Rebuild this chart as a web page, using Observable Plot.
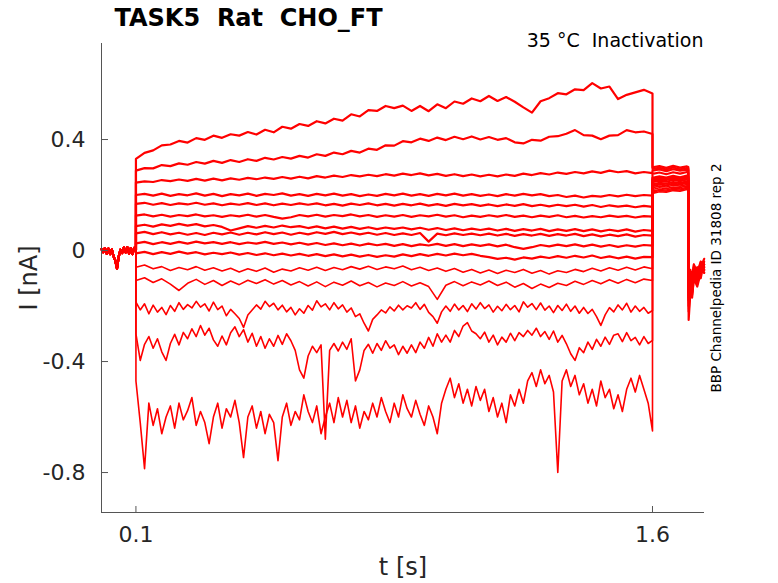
<!DOCTYPE html>
<html><head><meta charset="utf-8">
<script src="https://cdn.jsdelivr.net/npm/d3@7"></script>
<script src="https://cdn.jsdelivr.net/npm/@observablehq/plot@0.6"></script>
<style>
html,body{margin:0;padding:0;background:#fff;}
svg text{white-space:pre;}
</style></head><body><div id="chart"></div>
<script>
// ---- text ----
const titleText = "TASK5  Rat  CHO_FT";
const subtitleText = "35 °C  Inactivation";
const sideText = "BBP Channelpedia ID 31808 rep 2";
const xLabel = "t [s]";
const yLabel = "I [nA]";

// ---- axes ----
const xDomain = [0, 1.751];
const yDomain = [-0.944, 0.746];
const xTicks = [0.1, 1.6];
const xTickLabels = ["0.1", "1.6"];
const yTicks = [-0.8, -0.4, 0, 0.4];
const yTickLabels = ["-0.8", "-0.4", "0", "0.4"];

// ---- sample times (s) ----
const preT = [0,0.005,0.01,0.015,0.02,0.025,0.03,0.035,0.04,0.045,0.05,0.055,0.06,0.065,0.07,0.075,0.08,0.085,0.09,0.095,0.1];
const mainT = [0.1,0.125,0.15,0.175,0.2,0.225,0.25,0.275,0.3,0.325,
  0.35,0.375,0.4,0.425,0.45,0.475,0.5,0.525,0.55,0.575,
  0.6,0.625,0.65,0.675,0.7,0.725,0.75,0.775,0.8,0.825,
  0.85,0.875,0.9,0.925,0.95,0.975,1.0,1.025,1.05,1.075,
  1.1,1.125,1.15,1.175,1.2,1.225,1.25,1.275,1.3,1.325,
  1.35,1.375,1.4,1.425,1.45,1.475,1.5,1.525,1.55,1.575,
  1.6];
const fineT = [0.1,0.1125,0.125,0.1375,0.15,0.1625,0.175,0.1875,
  0.2,0.2125,0.225,0.2375,0.25,0.2625,0.275,0.2875,
  0.3,0.3125,0.325,0.3375,0.35,0.3625,0.375,0.3875,
  0.4,0.4125,0.425,0.4375,0.45,0.4625,0.475,0.4875,
  0.5,0.5125,0.525,0.5375,0.55,0.5625,0.575,0.5875,
  0.6,0.6125,0.625,0.6375,0.65,0.6625,0.675,0.6875,
  0.7,0.7125,0.725,0.7375,0.75,0.7625,0.775,0.7875,
  0.8,0.8125,0.825,0.8375,0.85,0.8625,0.875,0.8875,
  0.9,0.9125,0.925,0.9375,0.95,0.9625,0.975,0.9875,
  1.0,1.0125,1.025,1.0375,1.05,1.0625,1.075,1.0875,
  1.1,1.1125,1.125,1.1375,1.15,1.1625,1.175,1.1875,
  1.2,1.2125,1.225,1.2375,1.25,1.2625,1.275,1.2875,
  1.3,1.3125,1.325,1.3375,1.35,1.3625,1.375,1.3875,
  1.4,1.4125,1.425,1.4375,1.45,1.4625,1.475,1.4875,
  1.5,1.5125,1.525,1.5375,1.55,1.5625,1.575,1.5875,
  1.6];
const tailT = [1.6,1.62,1.64,1.66,1.68,1.7,1.704,1.705,1.71,1.715,1.72,1.73,1.74,1.75];

// ---- holding baseline (nA) ----
const preV = [0.005,-0.006,0.009,-0.011,0.007,-0.013,0.004,-0.021,-0.036,-0.065,-0.022,0.003,-0.009,0.011,-0.007,0.012,-0.011,0.009,-0.013,0.01,0];

// ---- test-pulse currents (nA), sampled on mainT ----
const i01 = [0.330,0.352,0.361,0.379,0.382,0.395,0.389,0.405,0.399,0.414,
  0.406,0.419,0.414,0.427,0.418,0.435,0.426,0.446,0.439,0.456,
  0.449,0.466,0.458,0.475,0.468,0.491,0.483,0.506,0.503,0.521,
  0.513,0.522,0.503,0.521,0.502,0.527,0.513,0.537,0.529,0.548,
  0.538,0.557,0.539,0.553,0.536,0.516,0.497,0.538,0.549,0.567,
  0.563,0.581,0.578,0.603,0.584,0.591,0.546,0.561,0.570,0.579,
  0.566];
const i02 = [0.288,0.297,0.296,0.308,0.304,0.314,0.309,0.319,0.313,0.323,
  0.316,0.326,0.319,0.329,0.323,0.334,0.328,0.337,0.331,0.341,
  0.335,0.347,0.341,0.353,0.347,0.359,0.353,0.367,0.363,0.379,
  0.378,0.394,0.390,0.403,0.395,0.407,0.398,0.410,0.401,0.411,
  0.400,0.409,0.399,0.405,0.390,0.386,0.399,0.396,0.410,0.412,
  0.421,0.434,0.416,0.414,0.401,0.414,0.416,0.434,0.426,0.429,
  0.420];
const i03 = [0.245,0.249,0.247,0.254,0.250,0.256,0.251,0.258,0.252,0.259,
  0.253,0.260,0.255,0.262,0.257,0.263,0.258,0.265,0.259,0.266,
  0.260,0.268,0.263,0.270,0.265,0.272,0.267,0.273,0.268,0.275,
  0.270,0.277,0.272,0.278,0.271,0.276,0.269,0.275,0.268,0.274,
  0.267,0.273,0.267,0.274,0.269,0.277,0.272,0.279,0.274,0.281,
  0.276,0.283,0.278,0.285,0.280,0.288,0.282,0.286,0.278,0.283,
  0.279];
const i04 = [0.200,0.204,0.198,0.205,0.197,0.203,0.199,0.206,0.198,0.204,
  0.196,0.203,0.199,0.205,0.197,0.204,0.200,0.206,0.198,0.203,
  0.197,0.204,0.199,0.205,0.198,0.203,0.196,0.202,0.197,0.204,
  0.199,0.205,0.198,0.203,0.197,0.204,0.199,0.205,0.198,0.203,
  0.197,0.202,0.196,0.203,0.198,0.204,0.199,0.203,0.196,0.200,
  0.193,0.198,0.191,0.197,0.194,0.200,0.195,0.201,0.196,0.200,
  0.198];
const i05 = [0.168,0.172,0.165,0.171,0.164,0.170,0.166,0.172,0.165,0.170,
  0.163,0.169,0.165,0.171,0.164,0.170,0.163,0.169,0.164,0.170,
  0.165,0.170,0.163,0.168,0.162,0.169,0.164,0.170,0.163,0.168,
  0.162,0.168,0.163,0.169,0.162,0.167,0.161,0.168,0.163,0.167,
  0.161,0.166,0.160,0.166,0.161,0.167,0.160,0.165,0.159,0.165,
  0.160,0.165,0.158,0.164,0.157,0.163,0.158,0.162,0.156,0.161,
  0.157];
const i06 = [0.126,0.130,0.123,0.129,0.122,0.128,0.124,0.130,0.123,0.127,
  0.121,0.127,0.123,0.129,0.122,0.128,0.121,0.115,0.120,0.128,
  0.123,0.129,0.122,0.128,0.124,0.130,0.123,0.128,0.121,0.127,
  0.122,0.128,0.121,0.127,0.123,0.129,0.122,0.127,0.120,0.126,
  0.121,0.127,0.122,0.128,0.121,0.126,0.120,0.126,0.121,0.127,
  0.120,0.125,0.119,0.124,0.120,0.126,0.121,0.125,0.119,0.124,
  0.122];
const i07 = [0.088,0.093,0.086,0.094,0.089,0.096,0.090,0.095,0.087,0.092,
  0.085,0.072,0.080,0.088,0.082,0.089,0.083,0.090,0.084,0.088,
  0.081,0.087,0.080,0.086,0.079,0.085,0.078,0.084,0.077,0.083,
  0.078,0.083,0.076,0.082,0.075,0.081,0.074,0.080,0.073,0.079,
  0.074,0.079,0.072,0.078,0.071,0.077,0.072,0.078,0.070,0.076,
  0.071,0.077,0.070,0.076,0.069,0.075,0.070,0.076,0.068,0.074,
  0.071];
const i08 = [0.062,0.067,0.059,0.066,0.058,0.064,0.057,0.063,0.056,0.064,
  0.058,0.065,0.057,0.064,0.058,0.066,0.059,0.065,0.057,0.064,
  0.058,0.066,0.060,0.067,0.059,0.065,0.058,0.064,0.057,0.063,
  0.056,0.062,0.056,0.063,0.032,0.061,0.055,0.062,0.056,0.061,
  0.055,0.061,0.054,0.060,0.053,0.059,0.054,0.060,0.053,0.059,
  0.054,0.060,0.052,0.058,0.051,0.057,0.052,0.058,0.050,0.056,
  0.054];
const i09 = [0.026,0.031,0.023,0.030,0.024,0.031,0.025,0.032,0.026,0.030,
  0.024,0.030,0.023,0.029,0.025,0.031,0.024,0.029,0.022,0.028,
  0.021,0.027,0.020,0.026,0.019,0.025,0.018,0.025,0.019,0.024,
  0.017,0.023,0.016,0.022,0.018,0.024,0.017,0.023,0.016,0.022,
  0.017,0.022,0.015,0.021,0.012,0.006,0.012,0.020,0.015,0.021,
  0.016,0.022,0.015,0.021,0.014,0.020,0.013,0.019,0.014,0.020,
  0.018];
const i10 = [-0.010,-0.005,-0.013,-0.006,-0.012,-0.004,-0.011,-0.006,-0.014,-0.008,
  -0.013,-0.007,-0.015,-0.009,-0.016,-0.010,-0.017,-0.011,-0.018,-0.012,
  -0.019,-0.013,-0.020,-0.014,-0.021,-0.015,-0.022,-0.016,-0.023,-0.017,
  -0.022,-0.014,-0.020,-0.013,-0.019,-0.012,-0.018,-0.011,-0.017,-0.012,
  -0.019,-0.024,-0.030,-0.026,-0.033,-0.025,-0.029,-0.022,-0.027,-0.020,
  -0.026,-0.019,-0.025,-0.018,-0.027,-0.021,-0.028,-0.022,-0.029,-0.023,
  -0.024];
const i11 = [-0.060,-0.052,-0.066,-0.058,-0.072,-0.061,-0.069,-0.058,-0.071,-0.062,
  -0.074,-0.064,-0.077,-0.066,-0.075,-0.063,-0.078,-0.067,-0.074,-0.062,
  -0.071,-0.060,-0.072,-0.061,-0.069,-0.058,-0.067,-0.057,-0.068,-0.059,
  -0.066,-0.056,-0.069,-0.060,-0.072,-0.063,-0.075,-0.065,-0.078,-0.068,
  -0.081,-0.070,-0.083,-0.071,-0.079,-0.068,-0.082,-0.072,-0.085,-0.073,
  -0.079,-0.068,-0.076,-0.064,-0.074,-0.062,-0.071,-0.060,-0.070,-0.059,
  -0.066];
const i12 = [-0.108,-0.098,-0.115,-0.102,-0.121,-0.144,-0.118,-0.104,-0.122,-0.108,
  -0.126,-0.110,-0.123,-0.107,-0.119,-0.105,-0.121,-0.108,-0.124,-0.112,
  -0.128,-0.113,-0.130,-0.114,-0.125,-0.110,-0.127,-0.115,-0.131,-0.117,
  -0.126,-0.112,-0.128,-0.116,-0.130,-0.176,-0.125,-0.112,-0.127,-0.113,
  -0.124,-0.110,-0.126,-0.114,-0.132,-0.119,-0.137,-0.121,-0.133,-0.118,
  -0.126,-0.111,-0.122,-0.108,-0.120,-0.105,-0.118,-0.104,-0.116,-0.103,
  -0.108];
// ---- noisier test-pulse currents (nA), sampled on fineT ----
const i13 = [-0.186,-0.214,-0.192,-0.228,-0.197,-0.222,-0.205,-0.231,
  -0.198,-0.219,-0.188,-0.212,-0.195,-0.207,-0.183,-0.204,
  -0.192,-0.218,-0.186,-0.213,-0.200,-0.235,-0.212,-0.228,
  -0.245,-0.277,-0.232,-0.214,-0.196,-0.211,-0.183,-0.202,
  -0.190,-0.214,-0.197,-0.221,-0.205,-0.232,-0.210,-0.226,
  -0.198,-0.215,-0.181,-0.203,-0.192,-0.214,-0.188,-0.210,
  -0.196,-0.222,-0.207,-0.238,-0.228,-0.262,-0.290,-0.248,
  -0.232,-0.214,-0.225,-0.203,-0.218,-0.197,-0.214,-0.199,
  -0.207,-0.188,-0.212,-0.194,-0.223,-0.238,-0.262,-0.221,
  -0.200,-0.219,-0.193,-0.214,-0.198,-0.220,-0.192,-0.211,
  -0.188,-0.209,-0.196,-0.222,-0.201,-0.217,-0.194,-0.213,
  -0.198,-0.221,-0.185,-0.204,-0.191,-0.213,-0.189,-0.215,
  -0.200,-0.224,-0.198,-0.216,-0.193,-0.219,-0.200,-0.226,
  -0.205,-0.227,-0.212,-0.238,-0.270,-0.232,-0.206,-0.221,
  -0.196,-0.214,-0.190,-0.222,-0.200,-0.219,-0.205,-0.226,
  -0.216];
const i14 = [-0.300,-0.396,-0.338,-0.310,-0.352,-0.318,-0.365,-0.396,
  -0.335,-0.302,-0.340,-0.295,-0.318,-0.282,-0.310,-0.270,
  -0.305,-0.280,-0.322,-0.345,-0.308,-0.340,-0.296,-0.275,
  -0.310,-0.285,-0.330,-0.298,-0.345,-0.310,-0.352,-0.318,
  -0.345,-0.306,-0.338,-0.300,-0.325,-0.360,-0.430,-0.460,
  -0.380,-0.345,-0.368,-0.340,-0.680,-0.360,-0.335,-0.362,
  -0.330,-0.356,-0.318,-0.470,-0.430,-0.360,-0.338,-0.370,
  -0.335,-0.360,-0.325,-0.352,-0.340,-0.375,-0.345,-0.370,
  -0.340,-0.368,-0.330,-0.352,-0.313,-0.345,-0.300,-0.330,
  -0.305,-0.330,-0.288,-0.310,-0.272,-0.260,-0.290,-0.300,
  -0.318,-0.294,-0.330,-0.305,-0.340,-0.312,-0.330,-0.298,
  -0.325,-0.296,-0.310,-0.288,-0.305,-0.280,-0.310,-0.292,
  -0.320,-0.290,-0.330,-0.306,-0.336,-0.372,-0.396,-0.350,
  -0.368,-0.330,-0.356,-0.320,-0.345,-0.312,-0.338,-0.305,
  -0.300,-0.328,-0.296,-0.325,-0.313,-0.340,-0.310,-0.335,
  -0.324];
const i15 = [-0.470,-0.620,-0.786,-0.550,-0.630,-0.570,-0.660,-0.600,
  -0.560,-0.640,-0.550,-0.610,-0.577,-0.530,-0.630,-0.580,
  -0.620,-0.696,-0.600,-0.550,-0.640,-0.570,-0.600,-0.540,
  -0.620,-0.746,-0.600,-0.560,-0.640,-0.580,-0.660,-0.590,
  -0.620,-0.757,-0.600,-0.550,-0.630,-0.580,-0.610,-0.520,
  -0.580,-0.620,-0.560,-0.660,-0.600,-0.550,-0.620,-0.530,
  -0.600,-0.540,-0.620,-0.560,-0.640,-0.580,-0.610,-0.550,
  -0.600,-0.530,-0.580,-0.620,-0.550,-0.600,-0.520,-0.570,
  -0.600,-0.540,-0.590,-0.630,-0.560,-0.600,-0.660,-0.550,
  -0.500,-0.460,-0.530,-0.480,-0.550,-0.500,-0.560,-0.490,
  -0.540,-0.500,-0.580,-0.530,-0.600,-0.550,-0.620,-0.520,
  -0.560,-0.500,-0.550,-0.470,-0.440,-0.490,-0.430,-0.480,
  -0.450,-0.510,-0.800,-0.470,-0.430,-0.490,-0.450,-0.520,
  -0.480,-0.550,-0.500,-0.560,-0.470,-0.530,-0.500,-0.570,
  -0.520,-0.580,-0.500,-0.460,-0.510,-0.450,-0.500,-0.550,
  -0.650];

// ---- post-pulse tails (nA), sampled on tailT ----
const tl01 = [0.300,0.304,0.298,0.305,0.299,0.303,0.301,-0.14,-0.09,-0.12,-0.07,-0.10,-0.06,-0.08];
const tl02 = [0.294,0.298,0.292,0.299,0.293,0.297,0.295,-0.16,-0.10,-0.13,-0.08,-0.11,-0.07,-0.05];
const tl03 = [0.288,0.292,0.286,0.293,0.288,0.291,0.289,-0.20,-0.12,-0.15,-0.09,-0.06,-0.10,-0.04];
const tl04 = [0.276,0.281,0.275,0.282,0.277,0.283,0.279,-0.13,-0.08,-0.11,-0.06,-0.09,-0.05,-0.07];
const tl05 = [0.262,0.267,0.263,0.269,0.264,0.270,0.266,-0.25,-0.15,-0.17,-0.10,-0.13,-0.08,-0.06];
const tl06 = [0.257,0.262,0.258,0.264,0.260,0.266,0.262,-0.12,-0.07,-0.10,-0.05,-0.08,-0.04,-0.06];
const tl07 = [0.252,0.257,0.254,0.259,0.256,0.261,0.258,-0.18,-0.11,-0.14,-0.08,-0.10,-0.06,-0.03];
const tl08 = [0.246,0.252,0.248,0.254,0.250,0.256,0.252,-0.15,-0.09,-0.12,-0.07,-0.09,-0.05,-0.07];
const tl09 = [0.238,0.244,0.241,0.247,0.243,0.249,0.246,-0.22,-0.13,-0.16,-0.10,-0.12,-0.07,-0.05];
const tl10 = [0.232,0.238,0.235,0.241,0.238,0.244,0.241,-0.17,-0.10,-0.13,-0.07,-0.11,-0.06,-0.08];
const tl11 = [0.226,0.232,0.229,0.235,0.232,0.238,0.235,-0.14,-0.08,-0.11,-0.05,-0.08,-0.04,-0.06];
const tl12 = [0.220,0.226,0.223,0.229,0.227,0.233,0.230,-0.19,-0.12,-0.15,-0.09,-0.11,-0.06,-0.04];
const tl13 = [0.214,0.220,0.218,0.224,0.222,0.228,0.225,-0.16,-0.10,-0.12,-0.08,-0.10,-0.05,-0.07];
const tl14 = [0.210,0.216,0.214,0.220,0.218,0.224,0.221,-0.21,-0.14,-0.16,-0.10,-0.12,-0.07,-0.05];
const tl15 = [0.206,0.212,0.210,0.216,0.214,0.220,0.217,-0.18,-0.11,-0.13,-0.08,-0.10,-0.06,-0.08];

const mains = [i01,i02,i03,i04,i05,i06,i07,i08,i09,i10,i11,i12,i13,i14,i15];
const mainTimes = [mainT,mainT,mainT,mainT,mainT,mainT,mainT,mainT,mainT,mainT,mainT,mainT,fineT,fineT,fineT];
const tails = [tl01,tl02,tl03,tl04,tl05,tl06,tl07,tl08,tl09,tl10,tl11,tl12,tl13,tl14,tl15];

const rows = [];
mains.forEach((vals, k) => {
  const push = (ts, vs) => { const n = Math.min(ts.length, vs.length); for (let i = 0; i < n; i++) rows.push({id: k, t: ts[i], v: vs[i]}); };
  push(preT, preV);
  push(mainTimes[k], vals);
  push(tailT, tails[k]);
});
const smoothRows = rows.filter(r => r.id < 10);
const noisyRows = rows.filter(r => r.id >= 10);

const axisColor = "#555555";
const textColor = "#262626";

const chart = Plot.plot({
  width: 778, height: 583,
  marginLeft: 101, marginRight: 74, marginTop: 43, marginBottom: 71,
  style: {fontFamily: "'DejaVu Sans', sans-serif", background: "#ffffff"},
  x: {domain: xDomain, axis: null},
  y: {domain: yDomain, axis: null},
  marks: [
    Plot.line(noisyRows, {x: "t", y: "v", z: "id", stroke: "#ff0000", strokeWidth: 1.6, strokeLinejoin: "round"}),
    Plot.line(smoothRows, {x: "t", y: "v", z: "id", stroke: "#ff0000", strokeWidth: 2.2, strokeLinejoin: "round"}),
    Plot.ruleX([xDomain[0]], {stroke: axisColor, strokeWidth: 1}),
    Plot.ruleY([yDomain[0]], {stroke: axisColor, strokeWidth: 1}),
    Plot.axisX({ticks: xTicks, tickSize: 6, dy: -6, fill: "none", stroke: axisColor, label: null}),
    Plot.axisY({ticks: yTicks, tickSize: 7, dx: 7, fill: "none", stroke: axisColor, label: null}),
    Plot.axisX({ticks: xTicks, tickSize: 0, tickPadding: 14, fontSize: 22, fill: textColor, label: null,
      tickFormat: d => xTickLabels[xTicks.indexOf(d)]}),
    Plot.axisY({ticks: yTicks, tickSize: 0, tickPadding: 16, fontSize: 22, fill: textColor, label: null,
      tickFormat: d => yTickLabels[yTicks.indexOf(d)]}),
    Plot.text([titleText], {text: d => d, frameAnchor: "top-left", dx: 13, dy: -24.7, textAnchor: "start",
      lineAnchor: "middle", fontSize: 24, fontWeight: "bold", fill: "#000000"}),
    Plot.text([subtitleText], {text: d => d, frameAnchor: "top-right", dx: -1, dy: -3, textAnchor: "end",
      lineAnchor: "middle", fontSize: 19, fill: "#000000"}),
    Plot.text([xLabel], {text: d => d, frameAnchor: "bottom", dy: 55.3, textAnchor: "middle",
      lineAnchor: "middle", fontSize: 24, fill: textColor}),
    Plot.text([yLabel], {text: d => d, frameAnchor: "left", dx: -72.5, rotate: -90, textAnchor: "middle",
      lineAnchor: "middle", fontSize: 24, fill: textColor}),
    Plot.text([sideText], {text: d => d, frameAnchor: "right", dx: 11.7, rotate: -90, textAnchor: "middle",
      lineAnchor: "middle", fontSize: 13.5, fill: "#000000"})
  ]
});
document.getElementById("chart").appendChild(chart);
</script></body></html>
